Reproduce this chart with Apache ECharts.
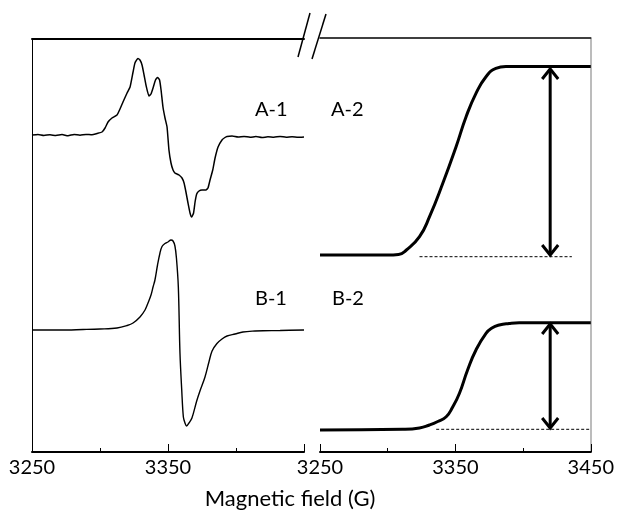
<!DOCTYPE html>
<html>
<head>
<meta charset="utf-8">
<script src="https://cdn.jsdelivr.net/npm/echarts@6/dist/echarts.min.js"></script>
<style>
  html, body { margin: 0; padding: 0; background: #fff; }
  #chart { width: 617px; height: 512px; }
</style>
</head>
<body>
<div id="chart"></div>
<script>
// Field axis (G) and tick labels
const fieldMin = 3250;
const fieldMax = 3450;
const fieldStep = 100;

// A-1: first-derivative EPR spectrum (signal, a.u.)
const a1Field = [3250,3254.4,3258.8,3263.2,3267.6,3272.1,3276.5,3280.9,3285.3,3289.7,3294.1,3297.8,3301.5,3303.7,3305.9,3308.8,3312.5,3314.7,3316.9,3319.9,3322.1,3324.3,3325.7,3327.9,3329.4,3330.9,3332.4,3333.8,3336.0,3337.5,3339.0,3340.8,3342.3,3343.8,3344.9,3346.3,3347.8,3349.3,3350.7,3352.2,3353.7,3355.1,3356.6,3358.1,3360.3,3361.8,3363.2,3364.7,3366.2,3367.4,3368.8,3369.9,3371.1,3372.8,3375.0,3377.9,3379.4,3380.9,3382.9,3384.6,3386.8,3389.7,3391.9,3393.4,3397.1,3401.5,3405.9,3410.3,3414.7,3419.1,3423.5,3427.9,3432.4,3436.8,3441.2,3445.6,3450];
const a1Signal = [317,317.6,316.6,317.2,316.5,317.4,316.3,317.5,316.8,317.6,317.2,318.5,320,324,330,334,337,343,350,359,365,380,389,393.5,392,387,377,367,356,358,364,372,374.5,372,362,345,334,325,302,289,282,279,278,277,274,269,260,249,239,235,239,250,258,261,262,262,264,272,282,294,305,312,314.5,315.5,315.9,314.9,315.6,314.7,315.4,314.4,315.2,314.7,315.6,314.8,315.3,314.7,315];

// B-1: first-derivative EPR spectrum (signal, a.u.)
const b1Field = [3250,3270.6,3287.5,3300,3312.5,3319.9,3324.3,3329.4,3333.1,3335.3,3337.5,3339.0,3340.4,3342.3,3344.1,3345.6,3347.8,3350.0,3352.2,3353.7,3355.1,3356.2,3357.6,3358.8,3360.1,3361.3,3362.5,3363.7,3365.4,3367.6,3371.1,3373.5,3377.2,3380.1,3382.4,3386.0,3389.7,3393.4,3399.3,3405.1,3414.0,3419.9,3432.4,3450];
const b1Signal = [122,122,122.5,123,124,126.5,129,135,142,149,157,165,172,187,199,205.5,208.5,210,212,211,206,194,165,99,62,35,29,26,29,34,51,61,75,90,101,108.5,113,116,118,120,121,121.3,121.5,122];

// A-2: integrated spectrum of A-1
const a2Field = [3250,3300,3308,3313.8,3323.5,3330.9,3340.7,3350.5,3357.9,3365.2,3372.6,3379.9,3387.3,3450];
const a2Integral = [197,197,197.6,202,215.3,235.3,268.7,305.3,335.3,358.7,375.3,383.7,385.5,385.5];

// B-2: integrated spectrum of B-1
const b2Field = [3250,3311,3323.5,3330.9,3337,3343.2,3348,3353,3359,3365.2,3372.6,3377,3382.4,3389.7,3397.1,3450];
const b2Integral = [22,22.7,24,27,30.5,35.3,45,58.7,82,102,118.7,124,127,128.6,129.3,129.3];

// Dashed baselines under the integrals: [start field, end field], level
const a2BaseField = [3323.5, 3436];
const a2BaseLevel = 195.3;
const b2BaseField = [3335.8, 3450];
const b2BaseLevel = 22.7;

// Double-headed arrows marking the integral height: field, top, bottom
const arrowField = [3420, 3420];
const arrowTop = [384, 129];
const arrowBottom = [196, 23];

// Panel labels
const panelLabels = ['A-1', 'A-2', 'B-1', 'B-2'];
const axisTitle = 'Magnetic field (G)';

const pairs = (xs, ys) => xs.map((x, i) => [x, ys[i]]);
const FONT = 'Lato, "Open Sans", sans-serif';

const bottomAxis = (gridIndex, showMax) => ({
  type: 'value', gridIndex, position: 'bottom',
  min: fieldMin, max: fieldMax, interval: fieldStep,
  axisLine: { onZero: false, lineStyle: { color: '#000', width: 2 } },
  axisTick: { inside: true, length: 8, lineStyle: { color: '#000', width: 1 } },
  minorTick: { show: true, splitNumber: 2, length: 4, lineStyle: { color: '#000', width: 1 } },
  splitLine: { show: false },
  minorSplitLine: { show: false },
  axisLabel: {
    color: '#000', fontFamily: FONT, fontSize: 20, margin: 6,
    showMinLabel: true, showMaxLabel: showMax,
    formatter: v => String(v)
  }
});
const topAxis = (gridIndex, width, offset) => ({
  type: 'value', gridIndex, position: 'top', offset,
  min: fieldMin, max: fieldMax,
  axisLine: { onZero: false, lineStyle: { color: '#000', width } },
  axisTick: { show: false }, axisLabel: { show: false }, splitLine: { show: false }
});
const yAxis = (gridIndex, position, show, color, width) => ({
  type: 'value', gridIndex, position, min: 0, max: 413,
  axisLine: { show, onZero: false, lineStyle: { color, width } },
  axisTick: { show: false }, axisLabel: { show: false }, splitLine: { show: false }
});

const lineSeries = (name, data, xi, yi, width, smooth) => ({
  name, type: 'line', data, xAxisIndex: xi, yAxisIndex: yi,
  showSymbol: false, symbol: 'none', smooth,
  lineStyle: { color: '#000', width }, silent: true, animation: false
});

const arrowData = arrowField.map((f, i) => [f, arrowTop[i], arrowBottom[i]]);

const chart = echarts.init(document.getElementById('chart'), null, { renderer: 'canvas' });
chart.setOption({
  backgroundColor: '#fff',
  animation: false,
  grid: [
    { left: 32, top: 39, width: 272, height: 413 },
    { left: 320, top: 39, width: 272, height: 413 }
  ],
  xAxis: [
    bottomAxis(0, false),
    bottomAxis(1, true),
    topAxis(0, 2, 0),
    topAxis(1, 1.5, 1.5)
  ],
  yAxis: [
    yAxis(0, 'left', true, '#000', 1),
    yAxis(1, 'left', false, '#000', 1),
    yAxis(1, 'right', true, '#a6a6a6', 1.5)
  ],
  series: [
    lineSeries('A-1', pairs(a1Field, a1Signal), 0, 0, 1.5, 0.15),
    lineSeries('B-1', pairs(b1Field, b1Signal), 0, 0, 1.4, 0.35),
    lineSeries('A-2', pairs(a2Field, a2Integral), 1, 1, 3, 0.5),
    lineSeries('B-2', pairs(b2Field, b2Integral), 1, 1, 3, 0.5),
    {
      name: 'A-2 baseline', type: 'line', xAxisIndex: 1, yAxisIndex: 1,
      data: a2BaseField.map(f => [f, a2BaseLevel]), symbol: 'none',
      lineStyle: { color: '#000', width: 1, type: [3, 2] }, silent: true
    },
    {
      name: 'B-2 baseline', type: 'line', xAxisIndex: 1, yAxisIndex: 1,
      data: b2BaseField.map(f => [f, b2BaseLevel]), symbol: 'none',
      lineStyle: { color: '#000', width: 1, type: [3, 2] }, silent: true
    },
    {
      name: 'height', type: 'custom', xAxisIndex: 1, yAxisIndex: 1,
      data: arrowData, silent: true,
      renderItem: (params, api) => {
        const top = api.coord([api.value(0), api.value(1)]);
        const bot = api.coord([api.value(0), api.value(2)]);
        const x = top[0], hw = 8, hl = 11;
        const style = { stroke: '#000', lineWidth: 3, fill: null, lineJoin: 'miter' };
        return {
          type: 'group',
          children: [
            { type: 'line', shape: { x1: x, y1: top[1] + 1, x2: x, y2: bot[1] - 1 }, style },
            { type: 'polyline', shape: { points: [[x - hw, top[1] + hl], [x, top[1] + 1], [x + hw, top[1] + hl]] }, style },
            { type: 'polyline', shape: { points: [[x - hw, bot[1] - hl], [x, bot[1] - 1], [x + hw, bot[1] - hl]] }, style }
          ]
        };
      }
    }
  ],
  graphic: [
    // axis break marks on the top frame
    { type: 'line', shape: { x1: 298, y1: 57, x2: 310, y2: 13 }, style: { stroke: '#000', lineWidth: 1.5 } },
    { type: 'line', shape: { x1: 312, y1: 59, x2: 326, y2: 14 }, style: { stroke: '#000', lineWidth: 1.5 } },
    { type: 'text', x: 255, y: 110, style: { text: panelLabels[0], font: '20px ' + FONT, fill: '#000', verticalAlign: 'middle' } },
    { type: 'text', x: 331, y: 110, style: { text: panelLabels[1], font: '20px ' + FONT, fill: '#000', verticalAlign: 'middle' } },
    { type: 'text', x: 255, y: 299, style: { text: panelLabels[2], font: '20px ' + FONT, fill: '#000', verticalAlign: 'middle' } },
    { type: 'text', x: 332, y: 299, style: { text: panelLabels[3], font: '20px ' + FONT, fill: '#000', verticalAlign: 'middle' } },
    { type: 'text', x: 290, y: 499, style: { text: axisTitle, font: '22px ' + FONT, fill: '#000', align: 'center', verticalAlign: 'middle' } }
  ]
});
</script>
</body>
</html>
